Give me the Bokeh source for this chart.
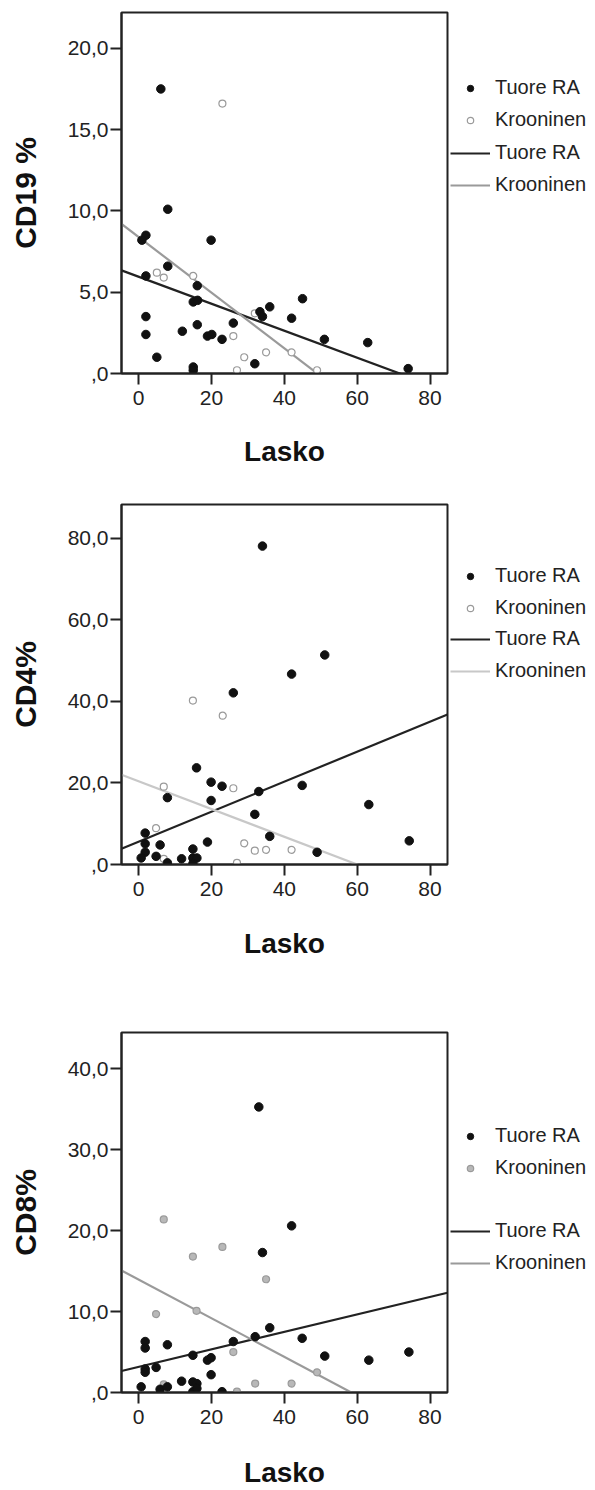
from bokeh.plotting import figure
from bokeh.models import Range1d, FixedTicker, Legend, LegendItem
from bokeh.layouts import column, row
from bokeh.embed import file_html
from bokeh.resources import INLINE

# ---------------- data ----------------
x_ticks = [0, 20, 40, 60, 80]
x_title = "Lasko"
group_names = ["Tuore RA", "Krooninen"]

# Panel 1: CD19 %
cd19_title = "CD19 %"
cd19_ticks = [0, 5, 10, 15, 20]
cd19_tick_labels = [",0", "5,0", "10,0", "15,0", "20,0"]
cd19_tuore_x = [6.1, 8.0, 2.0, 0.9, 19.9, 8.0, 2.0, 16.1, 45, 15, 16.2, 36, 33.3, 34, 42,
                2, 2, 12, 16.1, 26, 18.9, 20.1, 22.9, 51, 62.9, 5.0, 31.9, 15, 15, 74]
cd19_tuore_y = [17.5, 10.1, 8.5, 8.2, 8.2, 6.6, 6.0, 5.4, 4.6, 4.4, 4.5, 4.1, 3.8, 3.5, 3.4,
                3.5, 2.4, 2.6, 3.0, 3.1, 2.3, 2.4, 2.1, 2.1, 1.9, 1.0, 0.6, 0.4, 0.2, 0.3]
cd19_kroon_x = [23, 5, 6.9, 15, 31.9, 26, 29, 35, 42, 27, 49]
cd19_kroon_y = [16.6, 6.2, 5.9, 6.0, 3.7, 2.3, 1.0, 1.3, 1.3, 0.2, 0.2]
cd19_fit_tuore = [5.95, -0.083]   # intercept, slope
cd19_fit_kroon = [8.39, -0.171]

# Panel 2: CD4%
cd4_title = "CD4%"
cd4_ticks = [0, 20, 40, 60, 80]
cd4_tick_labels = [",0", "20,0", "40,0", "60,0", "80,0"]
cd4_tuore_x = [34, 51.1, 42, 26, 15.9, 19.9, 22.9, 44.9, 7.9, 19.9, 33, 63.2, 31.9, 36, 74.3,
               18.9, 49, 1.8, 1.8, 5.9, 1.8, 0.7, 4.8, 7.9, 11.8, 14.9, 14.9, 16, 14.9]
cd4_tuore_y = [78.1, 51.4, 46.7, 42.1, 23.7, 20.2, 19.2, 19.4, 16.4, 15.7, 17.9, 14.7, 12.3, 6.9, 5.8,
               5.5, 3.0, 7.7, 5.1, 4.8, 3.0, 1.6, 2.0, 0.4, 1.4, 3.8, 1.6, 1.6, 0.2]
cd4_kroon_x = [14.9, 23.1, 6.9, 26, 4.8, 6.9, 29, 31.9, 35, 42, 27]
cd4_kroon_y = [40.2, 36.5, 19.1, 18.7, 8.9, 1.4, 5.2, 3.4, 3.6, 3.6, 0.4]
cd4_fit_tuore = [5.59, 0.368]
cd4_fit_kroon = [20.4, -0.340]

# Panel 3: CD8%
cd8_title = "CD8%"
cd8_ticks = [0, 10, 20, 30, 40]
cd8_tick_labels = [",0", "10,0", "20,0", "30,0", "40,0"]
cd8_tuore_x = [33, 42, 34, 36, 44.9, 32, 26, 51.1, 63.2, 74.2, 1.8, 1.8, 7.9, 14.9, 18.9,
               19.9, 4.8, 1.8, 1.8, 19.9, 0.7, 5.9, 7.9, 11.8, 14.9, 16, 14.9, 16, 22.9]
cd8_tuore_y = [35.3, 20.6, 17.3, 8.0, 6.7, 6.9, 6.3, 4.5, 4.0, 5.0, 6.3, 5.5, 5.9, 4.6, 4.0,
               4.3, 3.1, 2.9, 2.5, 2.2, 0.7, 0.4, 0.7, 1.4, 1.3, 1.1, 0.1, 0.5, 0.1]
cd8_kroon_x = [6.9, 14.9, 23, 35, 4.8, 15.9, 26, 49, 32, 42, 6.9, 27]
cd8_kroon_y = [21.4, 16.8, 18.0, 14.0, 9.7, 10.1, 5.0, 2.5, 1.1, 1.1, 1.0, 0.1]
cd8_fit_tuore = [3.17, 0.108]
cd8_fit_kroon = [13.96, -0.239]

# ---------------- styling ----------------
FONT = "Liberation Sans"
X_START, X_END = -4.7, 84.8
MAIN_W, LEG_W = 449, 146
NAN = float("nan")


def make_panel(height, top, bottom, y_end, yticks, ylabels, ytitle,
               tx, ty, kx, ky, fit_t, fit_k, kroon_fill, kroon_line_col,
               xlabel_standoff, leg_pts_y, leg_lines_y):
    p = figure(width=MAIN_W, height=height, output_backend="svg", toolbar_location=None,
               x_range=Range1d(X_START, X_END), y_range=Range1d(0, y_end),
               min_border_left=121, min_border_right=2,
               min_border_top=top, min_border_bottom=bottom)
    p.grid.visible = False
    p.outline_line_color = "#222222"
    p.outline_line_width = 2
    p.background_fill_color = "white"
    p.border_fill_color = "white"

    for ax in (p.xaxis[0], p.yaxis[0]):
        ax.axis_line_color = "#222222"
        ax.axis_line_width = 2
        ax.major_tick_line_color = "#222222"
        ax.major_tick_line_width = 2
        ax.major_tick_out = 11
        ax.major_tick_in = 0
        ax.minor_tick_line_color = None
        ax.major_label_text_font = FONT
        ax.major_label_text_font_size = "21px"
        ax.major_label_text_color = "#222222"
        ax.axis_label_text_font = FONT
        ax.axis_label_text_font_style = "bold"
        ax.axis_label_text_color = "#111111"

    p.xaxis.ticker = FixedTicker(ticks=x_ticks)
    p.xaxis.major_label_standoff = 6
    p.xaxis.axis_label = x_title
    p.xaxis.axis_label_text_font_size = "28px"
    p.xaxis.axis_label_standoff = xlabel_standoff

    p.yaxis.ticker = FixedTicker(ticks=yticks)
    p.yaxis.major_label_overrides = {t: l for t, l in zip(yticks, ylabels)}
    p.yaxis.major_label_standoff = 2
    p.yaxis.axis_label = ytitle
    p.yaxis.axis_label_text_font_size = "30px"
    p.yaxis.axis_label_standoff = 23

    t_line = dict(line_color="#222222", line_width=2.2)
    k_line = dict(line_color=kroon_line_col, line_width=2.2)
    t_pt = dict(marker="circle", fill_color="#111111", line_color="#111111")
    k_pt = dict(marker="circle", fill_color=kroon_fill, line_color="#9a9a9a", line_width=1.2)

    lx = [X_START, X_END]
    p.line(lx, [fit_t[0] + fit_t[1] * v for v in lx], **t_line)
    p.line(lx, [fit_k[0] + fit_k[1] * v for v in lx], **k_line)
    p.scatter(kx, ky, size=7, **k_pt)
    p.scatter(tx, ty, size=8.5, **t_pt)

    # legend panel to the right of the frame (proxy renderers hold no visible data)
    lg = figure(width=LEG_W, height=height, output_backend="svg", toolbar_location=None,
                x_range=Range1d(0, 1), y_range=Range1d(0, 1),
                min_border=0, min_border_left=0, min_border_right=0,
                min_border_top=top, min_border_bottom=bottom)
    lg.axis.visible = False
    lg.grid.visible = False
    lg.outline_line_color = None
    lg.border_fill_color = "white"
    r_t = lg.scatter([NAN], [NAN], **t_pt)
    r_k = lg.scatter([NAN], [NAN], **k_pt)
    r_lt = lg.line([NAN, NAN], [NAN, NAN], **t_line)
    r_lk = lg.line([NAN, NAN], [NAN, NAN], **k_line)

    common = dict(padding=0, margin=0, border_line_color=None, background_fill_alpha=0,
                  label_text_font=FONT, label_text_font_size="20px",
                  label_text_color="#222222", label_height=16,
                  glyph_width=40, glyph_height=16, label_standoff=5, spacing=9)
    leg_pts = Legend(items=[LegendItem(label=group_names[0], renderers=[r_t]),
                            LegendItem(label=group_names[1], renderers=[r_k])],
                     location=(1, leg_pts_y), **common)
    leg_lines = Legend(items=[LegendItem(label=group_names[0], renderers=[r_lt]),
                              LegendItem(label=group_names[1], renderers=[r_lk])],
                       location=(1, leg_lines_y), **common)
    lg.add_layout(leg_pts)
    lg.add_layout(leg_lines)
    return row(p, lg, spacing=0)


p1 = make_panel(490, 12, 117, 22.2, cd19_ticks, cd19_tick_labels, cd19_title,
                cd19_tuore_x, cd19_tuore_y, cd19_kroon_x, cd19_kroon_y,
                cd19_fit_tuore, cd19_fit_kroon, "white", "#9a9a9a", 28, 242, 177)
p2 = make_panel(485, 14, 111, 88.3, cd4_ticks, cd4_tick_labels, cd4_title,
                cd4_tuore_x, cd4_tuore_y, cd4_kroon_x, cd4_kroon_y,
                cd4_fit_tuore, cd4_fit_kroon, "white", "#c8c8c8", 29, 245, 182)
p3 = make_panel(515, 57, 96, 44.5, cd8_ticks, cd8_tick_labels, cd8_title,
                cd8_tuore_x, cd8_tuore_y, cd8_kroon_x, cd8_kroon_y,
                cd8_fit_tuore, cd8_fit_kroon, "#b8b8b8", "#9a9a9a", 30, 213, 118)

layout = column(p1, p2, p3, spacing=0)
open("out.html", "w").write(file_html(layout, INLINE))
